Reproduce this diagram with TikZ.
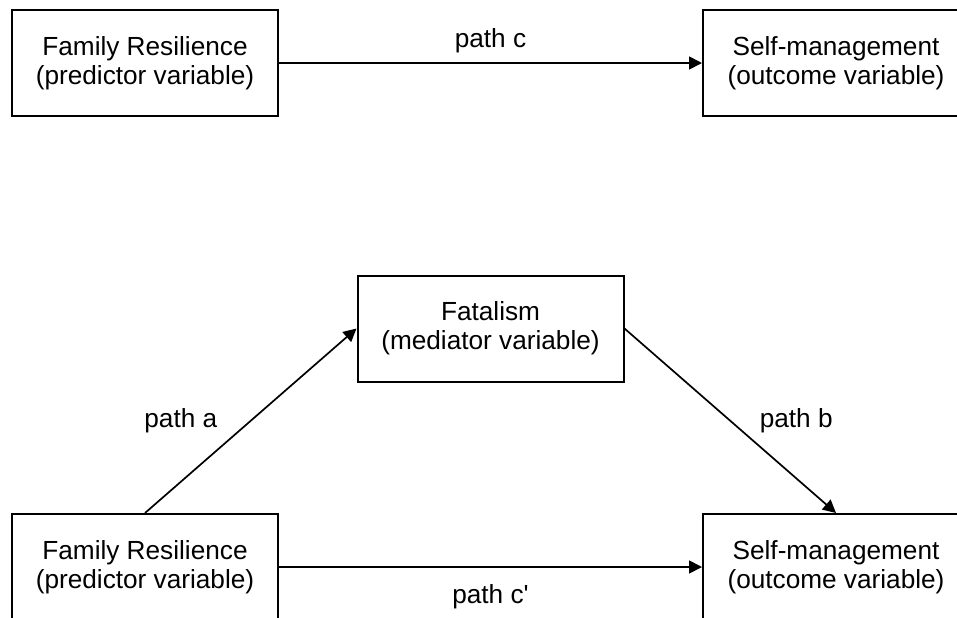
\documentclass[tikz,border=0pt]{standalone}
\usepackage{fontspec}
\setmainfont{Liberation Sans}
\usetikzlibrary{arrows.meta}
\begin{document}
\begin{tikzpicture}[x=0.5pt, y=-0.5pt,
    var/.style={draw, line width=1pt, minimum width=133pt, minimum height=53pt, inner sep=0pt, align=center, font=\fontsize{13.1}{14.6}\selectfont},
    path/.style={-{Triangle[length=6.5pt, width=6.5pt]}, line width=0.85pt},
    lbl/.style={font=\fontsize{13.1}{14}\selectfont}]
  \useasboundingbox (0,0) rectangle (957,617);
  \clip (0,0) rectangle (957,617);
  % total effect
  \node[var] (pred1) at (145,63) {Family Resilience\\(predictor variable)};
  \node[var] (out1) at (836,63) {Self-management\\(outcome variable)};
  \draw[path] (pred1) -- node[lbl, midway, above=1.5pt] {path c} (out1);
  % mediated effect
  \node[var] (med) at (490.5,328.5) {Fatalism\\(mediator variable)};
  \node[var] (pred2) at (145,567) {Family Resilience\\(predictor variable)};
  \node[var] (out2) at (836,567) {Self-management\\(outcome variable)};
  \draw[path] (pred2.north) -- node[lbl, midway, left=13pt] {path a} (med.west);
  \draw[path] (med.east) -- node[lbl, midway, right=11pt] {path b} (out2.north);
  \draw[path] (pred2) -- node[lbl, midway, below=5pt] {path c\textquotesingle} (out2);
\end{tikzpicture}
\end{document}
